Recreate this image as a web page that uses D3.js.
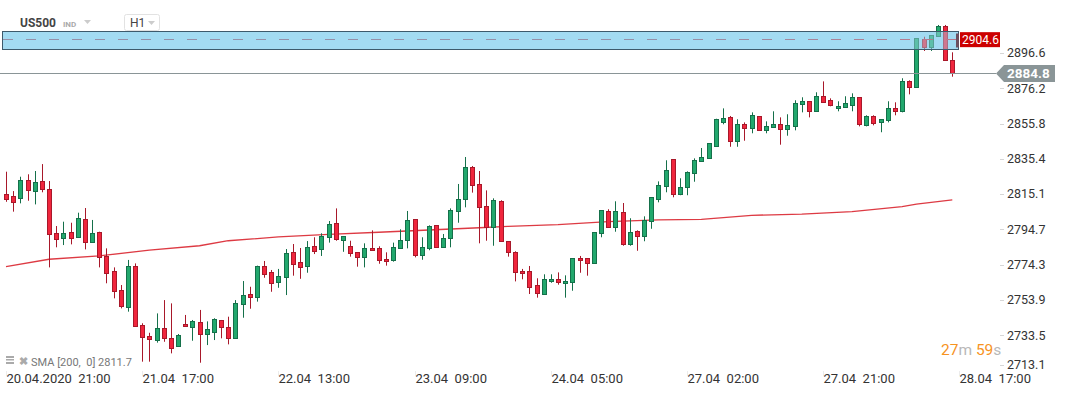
<!DOCTYPE html>
<html><head><meta charset="utf-8">
<script src="https://cdn.jsdelivr.net/npm/d3@7"></script>
<style>
html,body{margin:0;padding:0;background:#fff;}
svg{display:block;font-family:Roboto,"Open Sans",sans-serif;}
text{white-space:pre;}
</style></head><body>
<svg id="c" width="1067" height="395"></svg>
<script>
// ---------- DATA ----------
const openP = [2815.3,2813.9,2812.6,2823.0,2816.7,2822.4,2817.8,2792.4,2789.5,2793.1,2790.1,2800.5,2787.5,2793.1,2779.3,2770.4,2759.4,2749.6,2773.5,2739.2,2732.9,2730.7,2737.5,2731.7,2727.1,2740.0,2738.4,2741.3,2734.0,2735.5,2742.1,2738.4,2731.7,2751.3,2757.3,2755.4,2773.3,2769.8,2764.1,2767.0,2781.4,2775.6,2773.3,2784.9,2783.1,2790.1,2798.2,2788.3,2784.9,2781.4,2778.5,2783.7,2783.7,2777.4,2776.8,2783.7,2788.3,2800.5,2779.7,2783.7,2797.0,2784.3,2789.5,2805.1,2812.0,2830.5,2820.7,2808.0,2795.9,2810.9,2787.8,2781.4,2770.4,2770.4,2762.3,2757.1,2764.6,2765.8,2763.5,2764.1,2778.1,2777.9,2775.0,2792.4,2805.1,2795.9,2804.5,2786.0,2793.5,2790.7,2799.3,2812.0,2819.6,2835.2,2814.9,2819.0,2827.1,2834.0,2835.7,2843.0,2856.9,2859.4,2845.9,2855.4,2853.4,2860.0,2851.9,2853.7,2855.4,2852.5,2854.2,2866.9,2868.7,2862.9,2871.6,2869.3,2864.6,2865.2,2866.4,2871.0,2854.8,2860.0,2856.5,2857.7,2864.6,2862.9,2880.2,2876.8,2904.7,2899.9,2906.3,2912.2,2892.6];
const highP = [2828.0,2816.8,2825.1,2826.5,2828.4,2832.4,2822.6,2796.6,2799.1,2798.5,2804.3,2807.0,2800.1,2793.3,2783.7,2772.7,2762.5,2777.0,2775.0,2740.4,2734.9,2746.1,2753.8,2751.9,2734.2,2745.2,2742.3,2748.1,2741.5,2743.3,2742.3,2744.2,2753.8,2764.8,2761.5,2773.7,2776.4,2771.2,2771.8,2783.3,2786.2,2783.9,2787.9,2790.1,2792.4,2799.5,2806.8,2790.8,2788.1,2781.4,2786.6,2794.1,2784.9,2781.4,2787.0,2794.7,2805.3,2800.5,2790.1,2797.0,2797.0,2792.0,2806.8,2820.9,2836.5,2831.3,2828.4,2817.2,2812.6,2811.5,2787.8,2782.0,2771.8,2773.5,2766.4,2768.7,2768.7,2769.8,2768.1,2778.1,2779.3,2777.9,2793.1,2805.7,2806.3,2810.9,2809.9,2801.1,2794.1,2802.2,2813.2,2822.4,2834.6,2835.2,2824.2,2828.2,2835.7,2841.7,2844.4,2858.6,2864.6,2860.2,2858.3,2856.5,2862.3,2860.0,2857.1,2862.9,2859.4,2861.2,2869.3,2871.0,2868.7,2873.9,2880.2,2870.4,2868.7,2871.6,2873.3,2871.0,2860.6,2860.6,2858.3,2868.7,2868.1,2882.0,2880.8,2905.1,2906.0,2907.0,2912.8,2912.8,2897.0];
const lowP = [2810.6,2804.9,2809.7,2811.2,2809.1,2816.1,2772.7,2784.3,2785.6,2786.0,2789.8,2783.1,2787.0,2772.7,2763.5,2754.8,2749.0,2747.1,2738.4,2718.2,2718.2,2729.2,2729.7,2723.0,2726.8,2738.4,2730.3,2717.6,2727.8,2730.7,2731.7,2728.2,2731.7,2743.6,2748.8,2752.9,2766.7,2758.6,2760.9,2756.7,2767.9,2766.1,2769.6,2780.4,2779.3,2787.0,2788.1,2781.7,2778.9,2773.1,2772.7,2782.3,2774.8,2773.7,2776.0,2783.5,2783.7,2778.5,2777.1,2782.6,2784.3,2784.3,2784.3,2798.5,2807.4,2815.9,2786.6,2788.1,2785.2,2787.8,2778.9,2764.6,2765.8,2757.3,2755.2,2757.1,2763.8,2762.7,2755.2,2759.2,2769.6,2767.9,2775.0,2790.1,2795.9,2793.3,2785.2,2785.2,2782.3,2787.8,2795.0,2810.3,2816.1,2813.2,2814.4,2814.4,2822.2,2834.0,2835.7,2843.0,2855.4,2842.4,2842.4,2845.9,2850.2,2851.9,2850.2,2853.7,2843.6,2848.8,2851.9,2862.3,2859.4,2862.9,2868.1,2865.8,2862.9,2865.2,2862.9,2854.2,2854.2,2854.8,2850.8,2856.5,2860.6,2862.3,2872.7,2876.8,2897.8,2897.8,2906.3,2892.4,2882.9];
const closeP = [2812.4,2810.6,2823.0,2817.2,2821.9,2817.8,2791.8,2788.9,2792.4,2789.5,2801.1,2787.2,2792.4,2778.5,2769.3,2758.9,2750.2,2773.5,2738.6,2732.6,2731.1,2737.5,2731.7,2725.9,2733.4,2738.6,2741.5,2734.0,2736.9,2742.7,2738.1,2731.7,2751.9,2756.5,2755.4,2773.3,2768.7,2763.5,2767.5,2780.8,2774.5,2772.7,2784.3,2782.3,2790.8,2797.6,2788.9,2790.7,2780.8,2778.5,2783.7,2782.6,2776.8,2776.2,2784.3,2788.3,2799.9,2779.7,2784.3,2796.4,2784.3,2789.5,2805.7,2812.0,2830.5,2820.1,2807.4,2795.9,2811.5,2787.8,2781.4,2769.8,2769.3,2761.2,2757.7,2765.8,2765.8,2764.1,2764.6,2777.9,2776.8,2775.0,2793.0,2805.7,2795.9,2805.1,2786.0,2793.0,2790.7,2799.9,2813.2,2820.1,2828.8,2814.9,2819.0,2827.6,2834.6,2836.5,2844.4,2858.3,2858.9,2845.9,2855.4,2853.4,2860.6,2851.9,2854.2,2855.4,2852.5,2854.8,2867.5,2868.7,2862.9,2871.6,2868.1,2866.4,2865.8,2867.5,2871.0,2855.4,2860.0,2856.0,2858.3,2864.6,2862.9,2880.2,2876.8,2905.1,2899.9,2907.0,2912.2,2892.4,2884.8];

// SMA(200) read at sampled candle indices
const smaIdx = [0,6,13,20,27,31,38,45,52,59,66,70,77,84,91,97,104,111,118,125,127,132];
const smaVal = [2773.1,2777.4,2779.3,2782.7,2785.2,2788.1,2790.3,2791.8,2793.0,2794.3,2795.6,2796.4,2797.4,2799.1,2800.1,2800.5,2802.8,2803.5,2804.9,2807.8,2809.3,2811.7];

const yTicks = [2896.6,2876.2,2855.8,2835.4,2815.1,2794.7,2774.3,2753.9,2733.5,2713.1];
const xTickLabels = ["20.04.2020  21:00","21.04  17:00","22.04  13:00","23.04  09:00","24.04  05:00","27.04  02:00","27.04  21:00","28.04  17:00"];
const xTickIdx = [0,19,38,57,76,95,114,133];

const lastPrice = 2884.8;
const levelPrice = 2904.6;
const zoneTop = 2909.3, zoneBottom = 2898.9;
const smaLabel = "SMA [200,  0] 2811.7";

// ---------- SCALES ----------
const svg = d3.select("#c");
const x = d3.scaleLinear().domain([0, openP.length - 1]).range([6, 952.3]);
const y = d3.scaleLinear().domain([2713.1, 2896.6]).range([370.5, 53]);

const GREEN = "#22a86d", GREEN_D = "#15704a", RED = "#f0263d", RED_D = "#a8182a";
const ZONE = "#a3dbf2";
const zx0 = 2.5, zx1 = 958.5;
const zy0 = Math.round(y(zoneTop)) + 0.5, zh = Math.round(y(zoneBottom) - y(zoneTop));

// zone background (opaque, under candles)
svg.append("rect").attr("x", zx0).attr("y", zy0).attr("width", zx1 - zx0).attr("height", zh).attr("fill", ZONE);

// ---------- SMA ----------
const smaPts = smaIdx.map((d, i) => [x(d), y(smaVal[i])]);
svg.append("path").attr("d", d3.line()(smaPts))
  .attr("fill", "none").attr("stroke", "#d9252f").attr("stroke-width", 1.3).attr("opacity", 0.9);

// ---------- CANDLES ----------
const g = svg.append("g");
openP.forEach((o, i) => {
  const c = closeP[i], up = c >= o;
  const cx = Math.round(x(i));
  g.append("line").attr("x1", cx + 0.5).attr("x2", cx + 0.5)
    .attr("y1", y(highP[i])).attr("y2", y(lowP[i]))
    .attr("stroke", up ? GREEN_D : RED_D).attr("stroke-width", 1);
  const top = Math.round(y(Math.max(o, c))) + 0.5;
  const bot = Math.max(Math.round(y(Math.min(o, c))) + 0.5, top + 1);
  g.append("rect").attr("x", cx - 1.5).attr("width", 4)
    .attr("y", top).attr("height", bot - top)
    .attr("fill", up ? GREEN : RED).attr("stroke", up ? GREEN_D : RED_D).attr("stroke-width", 1);
});

// ---------- ZONE overlay ----------
svg.append("rect").attr("x", zx0).attr("y", zy0).attr("width", zx1 - zx0).attr("height", zh)
  .attr("fill", ZONE).attr("fill-opacity", 0.45);
const defs = svg.append("defs");
const gr = defs.append("linearGradient").attr("id", "dg").attr("gradientUnits", "userSpaceOnUse")
  .attr("x1", 0).attr("x2", 958).attr("y1", 0).attr("y2", 0);
gr.append("stop").attr("offset", "0.7").attr("stop-color", "#958fa8");
gr.append("stop").attr("offset", "1").attr("stop-color", "#b9788c");
svg.append("line").attr("x1", 3).attr("x2", 958).attr("y1", Math.round(y(levelPrice)) + 0.5).attr("y2", Math.round(y(levelPrice)) + 0.5)
  .attr("stroke", "url(#dg)").attr("stroke-width", 1).attr("stroke-dasharray", "10,13");
svg.append("rect").attr("x", zx0).attr("y", zy0).attr("width", zx1 - zx0).attr("height", zh)
  .attr("fill", "none").attr("stroke", "#3d5a6c").attr("stroke-width", 1);
svg.append("rect").attr("x", 956).attr("y", zy0 + 2).attr("width", 3).attr("height", zh - 4)
  .attr("fill", "#6a5060");

// level label
svg.append("rect").attr("x", 960).attr("y", y(levelPrice) - 7).attr("width", 40).attr("height", 15).attr("fill", "#cc0000");
svg.append("text").attr("x", 962).attr("y", y(levelPrice) + 4.5).attr("fill", "#fff")
  .attr("font-size", 12).text(levelPrice.toFixed(1));

// ---------- LAST PRICE LINE ----------
const ly = Math.round(y(lastPrice)) + 0.5;
svg.append("line").attr("x1", 0).attr("x2", 996).attr("y1", ly).attr("y2", ly)
  .attr("stroke", "#8a9597").attr("stroke-width", 1);

// ---------- Y AXIS ----------
const ya = svg.append("g");
yTicks.forEach(t => {
  const yy = Math.min(y(t), 365);
  ya.append("line").attr("x1", 1000).attr("x2", 1004).attr("y1", Math.round(yy) + 0.5).attr("y2", Math.round(yy) + 0.5)
    .attr("stroke", "#d6d6d6");
  ya.append("text").attr("x", 1007).attr("y", yy).attr("dy", "0.35em")
    .attr("font-size", 12.5).attr("fill", "#333").text(t.toFixed(1));
});

// last price tag
svg.append("path")
  .attr("d", `M996,${y(lastPrice)} L1004,${y(lastPrice) - 8.5} L1055,${y(lastPrice) - 8.5} L1055,${y(lastPrice) + 8.5} L1004,${y(lastPrice) + 8.5} Z`)
  .attr("fill", "#8a9597");
svg.append("text").attr("x", 1007).attr("y", y(lastPrice)).attr("dy", "0.36em")
  .attr("font-size", 13.5).attr("font-weight", "bold").attr("fill", "#fff").text(lastPrice.toFixed(1));

// ---------- X AXIS ----------
const xa = svg.append("g");
xTickLabels.forEach((lab, i) => {
  const xx = Math.round(x(xTickIdx[i]));
  xa.append("line").attr("x1", xx + 0.5).attr("x2", xx + 0.5).attr("y1", 371).attr("y2", 376).attr("stroke", "#ececec");
  xa.append("text").attr("x", xx + 0.5).attr("y", 383).attr("font-size", 13).attr("fill", "#333").text(lab);
});

// ---------- HEADER ----------
svg.append("text").attr("x", 20).attr("y", 27).attr("font-size", 12).attr("font-weight", "bold").attr("fill", "#444").text("US500");
svg.append("text").attr("x", 63).attr("y", 27).attr("font-size", 8).attr("font-weight", "bold").attr("fill", "#aaa").text("IND");
svg.append("path").attr("d", "M84,20 L91,20 L87.5,24 Z").attr("fill", "#ccc");
svg.append("rect").attr("x", 124.5).attr("y", 14.5).attr("width", 35).attr("height", 16).attr("rx", 2)
  .attr("fill", "#fff").attr("stroke", "#e2e2e2");
svg.append("text").attr("x", 130).attr("y", 27).attr("font-size", 12).attr("fill", "#444").text("H1");
svg.append("path").attr("d", "M148,21 L155,21 L151.5,25 Z").attr("fill", "#ccc");

// ---------- SMA LABEL ----------
svg.append("rect").attr("x", 6).attr("y", 356).attr("width", 8).attr("height", 2).attr("fill", "#aaa");
svg.append("rect").attr("x", 6).attr("y", 359).attr("width", 8).attr("height", 1.5).attr("fill", "#aaa");
svg.append("rect").attr("x", 6).attr("y", 362).attr("width", 8).attr("height", 2).attr("fill", "#aaa");
svg.append("text").attr("x", 19).attr("y", 365).attr("font-size", 11).attr("font-weight", "bold").attr("fill", "#aaa").text("✖");
svg.append("text").attr("x", 31).attr("y", 366).attr("font-size", 11).attr("fill", "#777").text(smaLabel);

// ---------- TIMER ----------
const tm = svg.append("text").attr("x", 941).attr("y", 355).attr("font-size", 15.5);
tm.append("tspan").attr("fill", "#f7931e").text("27");
tm.append("tspan").attr("fill", "#b8b8b8").text("m ");
tm.append("tspan").attr("fill", "#f7931e").text("59");
tm.append("tspan").attr("fill", "#b8b8b8").text("s");
</script>
</body></html>
